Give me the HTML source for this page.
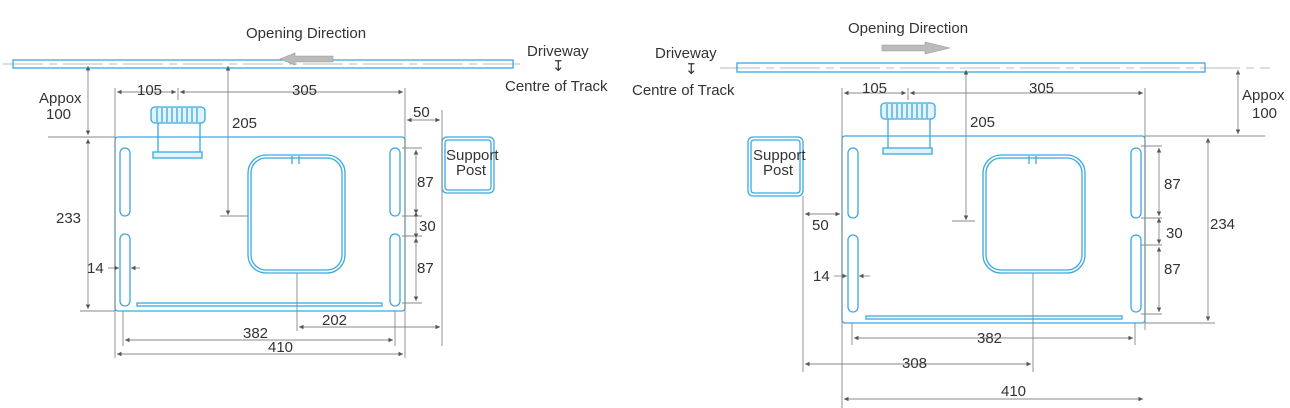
<!DOCTYPE html>
<html><head><meta charset="utf-8"><style>
html,body{margin:0;padding:0;background:#fff}
svg{display:block}
text{font-family:"Liberation Sans",sans-serif;font-size:15px;fill:#333}
.b{fill:none;stroke:#3aa8e0;stroke-width:1.3}
.bf{fill:#e3f3fb;stroke:#3aa8e0;stroke-width:1.3}
.d{stroke:#888;stroke-width:0.9;fill:none}
.c{stroke:#bbb;stroke-width:1;stroke-dasharray:40 6 8 6}
</style></head><body>
<svg width="1290" height="408" viewBox="0 0 1290 408" xmlns="http://www.w3.org/2000/svg">
<defs>
<marker id="a" markerWidth="6" markerHeight="6" refX="5" refY="3" orient="auto-start-reverse"><path d="M0,0.5 L5,3 L0,5.5" fill="#555"/></marker>
<g id="knob">
<rect class="bf" x="0" y="0" width="54" height="16" rx="4"/>
<path class="b" d="M6,1v14M11,1v14M16,1v14M21,1v14M26,1v14M31,1v14M36,1v14M41,1v14M46,1v14" stroke-width="0.8"/>
<path class="b" d="M7,16v29M49,16v29"/>
<rect class="bf" x="2" y="45" width="49" height="6"/>
</g>
</defs>

<!-- LEFT -->
<line class="c" x1="3" y1="64" x2="520" y2="64"/>
<rect class="b" x="13" y="60" width="500" height="8"/>
<text x="246" y="38">Opening Direction</text>
<polygon points="280,59 295,53 295,56 333,56 333,62 295,62 295,65" fill="#bbb" stroke="#999" stroke-width="0.6"/>
<text x="527" y="56">Driveway</text>
<text x="552" y="71" font-size="10">↧</text>
<text x="505" y="91">Centre of Track</text>

<rect class="b" x="115" y="137" width="290" height="174" rx="3"/>
<use href="#knob" x="151" y="107"/>
<rect class="b" x="120" y="148" width="10" height="68" rx="5"/>
<rect class="b" x="120" y="234" width="10" height="72" rx="5"/>
<rect class="b" x="390" y="148" width="10" height="68" rx="5"/>
<rect class="b" x="390" y="234" width="10" height="72" rx="5"/>
<rect class="b" x="248" y="155" width="97" height="118" rx="18"/>
<rect class="b" x="251" y="158" width="91" height="112" rx="15"/>
<path class="b" d="M292,156v8M299,156v8"/>
<rect class="b" x="137" y="303" width="245" height="3"/>
<rect class="b" x="442" y="137" width="52" height="56" rx="5"/>
<rect class="b" x="445" y="140" width="46" height="50" rx="3"/>
<text x="446" y="160" font-size="11.5">Support</text>
<text x="456" y="175" font-size="11.5">Post</text>

<path class="d" d="M48,137H115M80,311H115M115,88V358M405,88V358M442,110V346M123,311V346M395,311V346M297,273V331M220,216H248M178,88V100M402,148H422M402,216H422M402,236H422M402,303H422"/>
<line class="d" x1="88" y1="66" x2="88" y2="135" marker-start="url(#a)" marker-end="url(#a)"/>
<line class="d" x1="88" y1="139" x2="88" y2="309" marker-start="url(#a)" marker-end="url(#a)"/>
<line class="d" x1="117" y1="92" x2="176" y2="92" marker-start="url(#a)" marker-end="url(#a)"/>
<line class="d" x1="180" y1="92" x2="403" y2="92" marker-start="url(#a)" marker-end="url(#a)"/>
<line class="d" x1="228" y1="66" x2="228" y2="215" marker-start="url(#a)" marker-end="url(#a)"/>
<line class="d" x1="407" y1="120" x2="440" y2="120" marker-start="url(#a)" marker-end="url(#a)"/>
<line class="d" x1="416" y1="150" x2="416" y2="214" marker-start="url(#a)" marker-end="url(#a)"/>
<line class="d" x1="416" y1="212" x2="416" y2="238" marker-start="url(#a)" marker-end="url(#a)"/>
<line class="d" x1="416" y1="238" x2="416" y2="301" marker-start="url(#a)" marker-end="url(#a)"/>
<line class="d" x1="108" y1="268" x2="119" y2="268" marker-end="url(#a)"/>
<line class="d" x1="140" y1="268" x2="131" y2="268" marker-end="url(#a)"/>
<line class="d" x1="299" y1="327" x2="440" y2="327" marker-start="url(#a)" marker-end="url(#a)"/>
<line class="d" x1="125" y1="340" x2="393" y2="340" marker-start="url(#a)" marker-end="url(#a)"/>
<line class="d" x1="117" y1="354" x2="403" y2="354" marker-start="url(#a)" marker-end="url(#a)"/>
<text x="39" y="103">Appox</text><text x="46" y="119">100</text>
<text x="56" y="223">233</text>
<text x="137" y="95">105</text><text x="292" y="95">305</text>
<text x="232" y="128">205</text>
<text x="413" y="117">50</text>
<text x="417" y="187">87</text><text x="419" y="231">30</text><text x="417" y="273">87</text>
<text x="87" y="273">14</text>
<text x="322" y="325">202</text>
<text x="243" y="338">382</text>
<text x="268" y="352">410</text>

<!-- RIGHT -->
<line class="c" x1="720" y1="68" x2="1270" y2="68"/>
<rect class="b" x="737" y="63" width="468" height="9"/>
<text x="848" y="33">Opening Direction</text>
<polygon points="882,45 925,45 925,42 950,48 925,54 925,51 882,51" fill="#bbb" stroke="#999" stroke-width="0.6"/>
<text x="655" y="58">Driveway</text>
<text x="685" y="74" font-size="10">↧</text>
<text x="632" y="95">Centre of Track</text>

<rect class="b" x="842" y="136" width="303" height="187" rx="3"/>
<use href="#knob" x="881" y="103"/>
<rect class="b" x="848" y="148" width="10" height="70" rx="5"/>
<rect class="b" x="848" y="235" width="10" height="77" rx="5"/>
<rect class="b" x="1131" y="148" width="10" height="70" rx="5"/>
<rect class="b" x="1131" y="235" width="10" height="77" rx="5"/>
<rect class="b" x="983" y="155" width="102" height="118" rx="18"/>
<rect class="b" x="986" y="158" width="96" height="112" rx="15"/>
<path class="b" d="M1029,156v8M1036,156v8"/>
<rect class="b" x="866" y="316" width="256" height="3"/>
<rect class="b" x="748" y="137" width="55" height="59" rx="5"/>
<rect class="b" x="751" y="140" width="49" height="53" rx="3"/>
<text x="753" y="160" font-size="11.5">Support</text>
<text x="763" y="175" font-size="11.5">Post</text>

<path class="d" d="M1145,136H1265M1145,323H1215M842,88V408M1145,88V330M803,196V372M852,323V345M1135,323V345M1033,273V372M952,221H975M908,88V100M1141,146H1162M1141,218H1162M1141,245H1162M1141,314H1162"/>
<line class="d" x1="1238" y1="70" x2="1238" y2="134" marker-start="url(#a)" marker-end="url(#a)"/>
<line class="d" x1="1208" y1="138" x2="1208" y2="321" marker-start="url(#a)" marker-end="url(#a)"/>
<line class="d" x1="844" y1="93" x2="906" y2="93" marker-start="url(#a)" marker-end="url(#a)"/>
<line class="d" x1="910" y1="93" x2="1143" y2="93" marker-start="url(#a)" marker-end="url(#a)"/>
<line class="d" x1="966" y1="70" x2="966" y2="220" marker-start="url(#a)" marker-end="url(#a)"/>
<line class="d" x1="805" y1="214" x2="840" y2="214" marker-start="url(#a)" marker-end="url(#a)"/>
<line class="d" x1="1159" y1="148" x2="1159" y2="216" marker-start="url(#a)" marker-end="url(#a)"/>
<line class="d" x1="1159" y1="218" x2="1159" y2="244" marker-start="url(#a)" marker-end="url(#a)"/>
<line class="d" x1="1159" y1="247" x2="1159" y2="312" marker-start="url(#a)" marker-end="url(#a)"/>
<line class="d" x1="834" y1="276" x2="847" y2="276" marker-end="url(#a)"/>
<line class="d" x1="870" y1="276" x2="859" y2="276" marker-end="url(#a)"/>
<line class="d" x1="854" y1="338" x2="1133" y2="338" marker-start="url(#a)" marker-end="url(#a)"/>
<line class="d" x1="805" y1="364" x2="1031" y2="364" marker-start="url(#a)" marker-end="url(#a)"/>
<line class="d" x1="844" y1="399" x2="1143" y2="399" marker-start="url(#a)" marker-end="url(#a)"/>
<text x="1242" y="100">Appox</text><text x="1252" y="118">100</text>
<text x="1210" y="229">234</text>
<text x="862" y="93">105</text><text x="1029" y="93">305</text>
<text x="970" y="127">205</text>
<text x="812" y="230">50</text>
<text x="1164" y="189">87</text><text x="1166" y="238">30</text><text x="1164" y="274">87</text>
<text x="813" y="281">14</text>
<text x="977" y="343">382</text>
<text x="902" y="368">308</text>
<text x="1001" y="396">410</text>
</svg>
</body></html>
